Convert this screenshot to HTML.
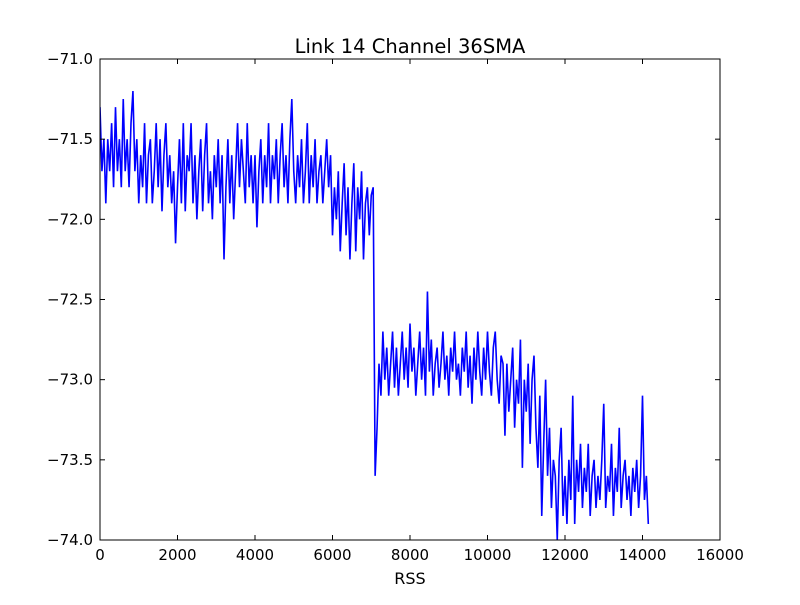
<!DOCTYPE html>
<html><head><meta charset="utf-8"><style>
body{margin:0;background:#fff;}
svg text{font-family:"DejaVu Sans","Liberation Sans",sans-serif;}
</style></head><body>
<svg id="chart" width="800" height="600" xmlns="http://www.w3.org/2000/svg">
<rect width="800" height="600" fill="#fff"/>
<text x="410" y="53" text-anchor="middle" font-size="19.5">Link 14 Channel 36SMA</text>
<text x="410" y="584" text-anchor="middle" font-size="16">RSS</text>
<g id="plot"></g>
</svg>
<script>
const xTicks=[0,2000,4000,6000,8000,10000,12000,14000,16000];
const yTicks=[-71.0,-71.5,-72.0,-72.5,-73.0,-73.5,-74.0];
const xStart=0, xStep=50;
const rssValues=[
-71.3,-71.7,-71.5,-71.9,-71.5,-71.7,-71.4,-71.8,-71.3,-71.7,-71.5,-71.8,-71.25,-71.7,-71.5,-71.8,-71.4,-71.2,-71.7,-71.5,-71.9,-71.6,-71.8,-71.4,-71.9,-71.6,-71.5,-71.9,-71.7,-71.4,-71.8,-71.5,-71.95,-71.6,-71.4,-71.8,-71.6,-71.9,-71.7,-72.15,
-71.8,-71.5,-71.9,-71.4,-71.95,-71.6,-71.7,-71.4,-71.9,-71.6,-72.0,-71.7,-71.5,-71.95,-71.6,-71.4,-71.9,-71.7,-72.0,-71.6,-71.8,-71.5,-71.9,-71.6,-72.25,-71.8,-71.5,-71.9,-71.6,-72.0,-71.7,-71.4,-71.8,-71.5,-71.7,-71.9,-71.4,-71.8,-71.6,-71.9,
-71.6,-72.05,-71.7,-71.5,-71.9,-71.6,-71.8,-71.4,-71.9,-71.6,-71.75,-71.5,-71.9,-71.6,-71.4,-71.8,-71.6,-71.9,-71.5,-71.25,-71.7,-71.9,-71.6,-71.8,-71.5,-71.9,-71.7,-71.4,-71.9,-71.6,-71.8,-71.5,-71.9,-71.7,-71.6,-71.9,-71.7,-71.5,-71.8,-71.6,
-72.1,-71.8,-72.0,-71.7,-72.2,-71.9,-71.65,-72.1,-71.8,-72.25,-71.9,-71.65,-72.2,-71.8,-72.0,-71.7,-72.25,-71.9,-71.8,-72.1,-71.85,-71.8,
-73.6,-73.3,
-72.9,-73.1,-72.7,-73.0,-72.8,-73.1,-72.9,-72.7,-73.05,-72.8,-73.1,-72.9,-72.7,-73.0,-72.8,-73.05,-72.65,-72.95,-72.8,-73.1,-72.9,-72.7,-73.0,-72.8,-73.1,-72.45,-72.95,-72.75,-73.1,-72.9,-72.8,-73.05,-72.9,-72.7,-73.0,-72.85,-73.1,-72.8,-72.95,-72.7,-73.0,-72.9,-73.1,-72.8,-72.95,-72.7,-73.05,-72.85,-73.15,-72.8,-73.0,-72.7,-72.95,-73.1,-72.8,-73.0,-72.7,-72.95,-73.1,-72.8,-72.7,-73.0,-73.15,-72.85,-72.9,-73.35,
-72.9,-73.2,-73.0,-72.8,-73.3,-73.0,-73.15,-72.75,-73.55,-73.0,-73.2,-72.9,-73.4,-73.0,-72.85,-73.3,-73.55,-73.1,-73.85,-73.4,-73.0,-73.6,-73.3,-73.8,-73.5,-73.6,-74.0,-73.5,-73.3,-73.85,
-73.6,-73.9,-73.5,-73.75,-73.1,-73.9,-73.5,-73.7,-73.4,-73.8,-73.55,-73.7,-73.4,-73.85,-73.6,-73.5,-73.8,-73.6,-73.75,-73.5,-73.15,-73.8,-73.6,-73.7,-73.4,-73.85,-73.55,-73.7,-73.3,-73.8,-73.6,-73.5,-73.75,-73.6,-73.85,-73.55,-73.7,-73.5,-73.8,-73.6,-73.1,-73.75,-73.6,-73.9
];
const L=100,R=720,T=59,B=540;
const xMin=0,xMax=16000,yMin=-74,yMax=-71;
function sx(v){return L+(v-xMin)/(xMax-xMin)*(R-L);}
function sy(v){return B-(v-yMin)/(yMax-yMin)*(B-T);}
const NS='http://www.w3.org/2000/svg';
const g=document.getElementById('plot');
function mk(tag,attrs){const e=document.createElementNS(NS,tag);for(const k in attrs)e.setAttribute(k,attrs[k]);g.appendChild(e);return e;}
const clip=document.createElementNS(NS,'clipPath');clip.setAttribute('id','clip');
const cr=document.createElementNS(NS,'rect');cr.setAttribute('x',L);cr.setAttribute('y',T);cr.setAttribute('width',R-L);cr.setAttribute('height',B-T);
clip.appendChild(cr);g.appendChild(clip);
let d='';
rssValues.forEach((v,i)=>{d+=(i?'L':'M')+sx(xStart+i*xStep).toFixed(2)+','+sy(v).toFixed(2);});
const line=mk('path',{d:d,fill:'none',stroke:'#0000ff','stroke-width':1.6,'stroke-linejoin':'miter','clip-path':'url(#clip)'});


const frame=mk('rect',{x:L,y:T,width:R-L,height:B-T,fill:'none',stroke:'#000','stroke-width':1});


xTicks.forEach(t=>{
  const x=sx(t);
  mk('line',{x1:x,x2:x,y1:B,y2:B-5,stroke:'#000'});
  mk('line',{x1:x,x2:x,y1:T,y2:T+5,stroke:'#000'});
  const tx=mk('text',{x:x,y:B+20,'text-anchor':'middle','font-size':15});
  tx.textContent=t;
  
  
});
yTicks.forEach(t=>{
  const y=sy(t);
  mk('line',{x1:L,x2:L+5,y1:y,y2:y,stroke:'#000'});
  mk('line',{x1:R,x2:R-5,y1:y,y2:y,stroke:'#000'});
  const ty=mk('text',{x:L-7,y:y+5,'text-anchor':'end','font-size':15});
  ty.textContent='\u2212'+Math.abs(t).toFixed(1);
  
  
});
</script>
</body></html>
